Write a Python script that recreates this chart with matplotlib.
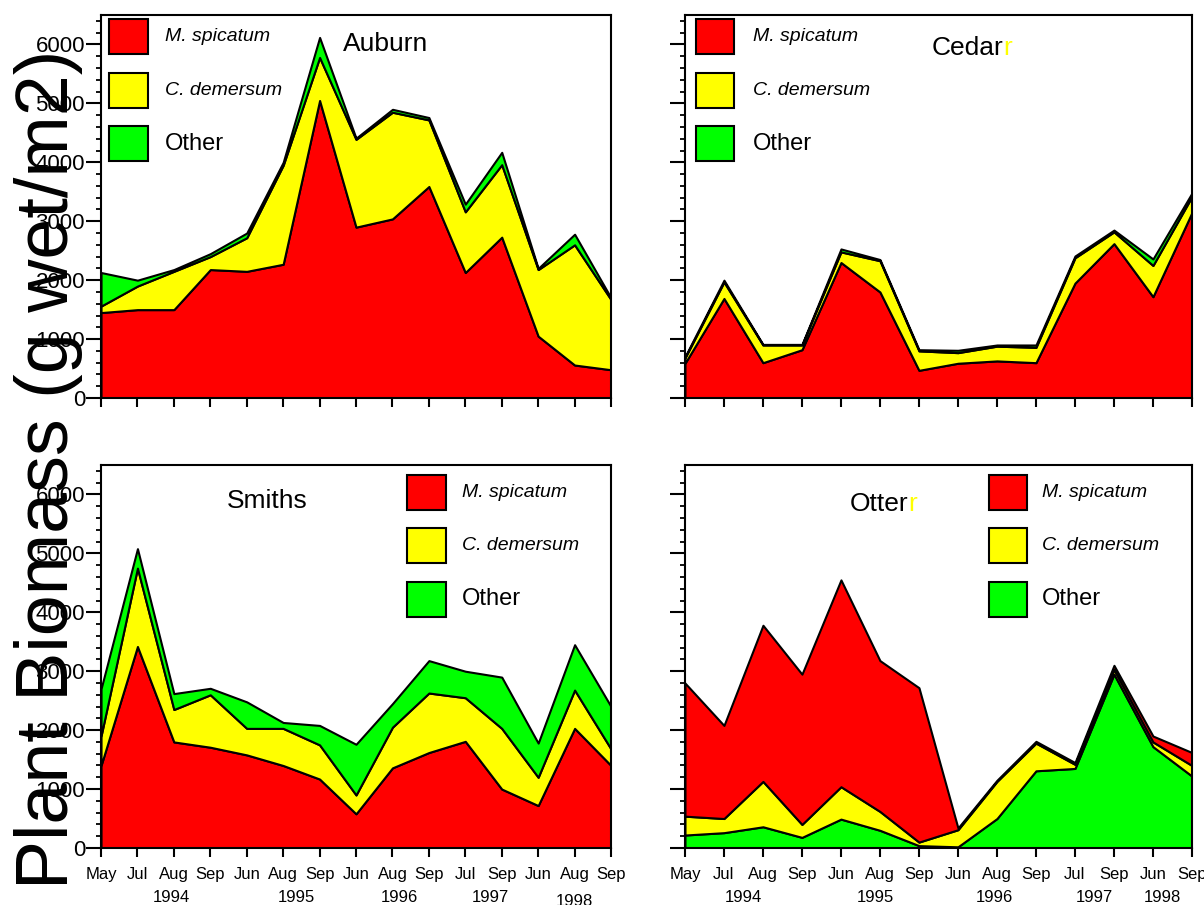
import matplotlib
matplotlib.use("Agg")
import matplotlib.pyplot as plt
from matplotlib.patches import Rectangle
from matplotlib.ticker import MultipleLocator

plt.rcParams['font.family'] = ['Liberation Sans', 'DejaVu Sans']

RED = '#ff0000'
YELLOW = '#ffff00'
GREEN = '#00ff00'

# sampling dates (left column lakes have one extra Aug 1998 visit)
left_months = ['May', 'Jul', 'Aug', 'Sep', 'Jun', 'Aug', 'Sep', 'Jun', 'Aug',
               'Sep', 'Jul', 'Sep', 'Jun', 'Aug', 'Sep']
right_months = ['May', 'Jul', 'Aug', 'Sep', 'Jun', 'Aug', 'Sep', 'Jun', 'Aug',
                'Sep', 'Jul', 'Sep', 'Jun', 'Sep']
years = ['1994', '1995', '1996', '1997', '1998']
left_year_at = [1.94, 5.35, 8.2, 10.7, 13.0]
right_year_at = [1.5, 4.87, 7.93, 10.5, 12.25]

# biomass, g wet / m2
auburn_milfoil = [1450, 1500, 1500, 2180, 2150, 2270, 5050, 2900, 3040, 3590, 2130, 2730, 1050, 560, 480]
auburn_coontail = [110, 400, 650, 220, 570, 1680, 730, 1490, 1810, 1130, 1030, 1230, 1130, 2040, 1190]
auburn_other = [570, 100, 30, 50, 80, 50, 340, 20, 50, 40, 130, 210, 20, 180, 30]

cedar_milfoil = [590, 1690, 600, 820, 2300, 1800, 470, 590, 630, 600, 1950, 2620, 1720, 3150]
cedar_coontail = [90, 280, 300, 80, 180, 530, 330, 180, 250, 260, 430, 200, 530, 270]
cedar_other = [20, 30, 10, 10, 50, 20, 20, 40, 20, 40, 30, 30, 110, 60]

smiths_milfoil = [1400, 3420, 1800, 1710, 1580, 1400, 1170, 580, 1360, 1620, 1810, 1000, 720, 2030, 1400]
smiths_coontail = [500, 1330, 550, 890, 450, 630, 580, 320, 690, 1010, 740, 1030, 480, 650, 280]
smiths_other = [800, 330, 270, 110, 450, 100, 330, 860, 400, 550, 450, 870, 580, 770, 720]

otter_milfoil = [2260, 1580, 2650, 2550, 3510, 2560, 2620, 30, 20, 30, 30, 70, 100, 220]
otter_coontail = [320, 240, 770, 220, 550, 320, 60, 290, 630, 470, 70, 80, 80, 180]
otter_other = [220, 260, 360, 180, 490, 300, 40, 20, 500, 1310, 1350, 2950, 1720, 1220]

keys = [('M. spicatum', RED, 'italic', 14),
        ('C. demersum', YELLOW, 'italic', 14),
        ('Other', GREEN, 'normal', 17)]


def style_axes(ax, months, show_x, show_y):
    x = range(len(months))
    ax.set_xlim(0, len(months) - 1)
    ax.set_ylim(0, 6500)
    ax.set_xticks(list(x))
    ax.set_xticklabels(months if show_x else [])
    ax.yaxis.set_major_locator(MultipleLocator(1000))
    ax.yaxis.set_minor_locator(MultipleLocator(200))
    if not show_y:
        ax.set_yticklabels([])
    for sp in ax.spines.values():
        sp.set_linewidth(1.5)
    ax.tick_params(axis='x', which='major', direction='out', length=6.5,
                   width=1.5, labelsize=12, pad=7)
    ax.tick_params(axis='y', which='major', direction='out', length=10.5,
                   width=1.5, labelsize=16, pad=1)
    ax.tick_params(axis='y', which='minor', direction='out', length=3.5,
                   width=1.3)


def draw_key(ax, x0, top, label_x):
    w, h, step = 0.0755, 0.0914, 0.1397
    for i, (name, color, style, size) in enumerate(keys):
        y = top - i * step - h
        ax.add_patch(Rectangle((x0, y), w, h, transform=ax.transAxes,
                               facecolor=color, edgecolor='black', lw=1.5,
                               clip_on=False, zorder=5))
        ax.text(label_x, y + h / 2, name, transform=ax.transAxes,
                fontsize=size, style=style, va='center', zorder=5)


def add_years(ax, where, low_last=False):
    tr = ax.get_xaxis_transform()
    for i, (yr, xpos) in enumerate(zip(years, where)):
        yy = -0.1305
        if low_last and i == len(years) - 1:
            yy = -0.14
        ax.text(xpos, yy, yr, transform=tr, ha='center', va='center',
                fontsize=12, clip_on=False)


def two_tone_title(ax, x, y, stem):
    t = ax.text(x, y, stem, transform=ax.transAxes, fontsize=19,
                ha='left', va='bottom')
    ax.annotate('r', xy=(1, 0), xycoords=t, fontsize=19, color=YELLOW,
                ha='left', va='bottom')


fig = plt.figure(figsize=(12.04, 9.05), dpi=100)
ax_a = fig.add_axes([0.0839, 0.5602, 0.4236, 0.4232])
ax_c = fig.add_axes([0.5689, 0.5602, 0.4211, 0.4232])
ax_s = fig.add_axes([0.0839, 0.0630, 0.4236, 0.4232])
ax_o = fig.add_axes([0.5689, 0.0630, 0.4211, 0.4232])

edge = dict(edgecolor='black', linewidth=1.5)

# Auburn
xl = range(len(left_months))
ax_a.stackplot(xl, auburn_milfoil, auburn_coontail, auburn_other,
               colors=[RED, YELLOW, GREEN], **edge)
style_axes(ax_a, left_months, False, True)
ax_a.text(0.557, 0.924, 'Auburn', transform=ax_a.transAxes, fontsize=19,
          ha='center', va='center')
draw_key(ax_a, 0.0157, 0.9896, 0.125)

# Cedar
xr = range(len(right_months))
ax_c.stackplot(xr, cedar_milfoil, cedar_coontail, cedar_other,
               colors=[RED, YELLOW, GREEN], **edge)
style_axes(ax_c, right_months, False, False)
two_tone_title(ax_c, 0.487, 0.882, 'Cedar')
draw_key(ax_c, 0.0217, 0.9896, 0.134)

# Smiths
ax_s.stackplot(xl, smiths_milfoil, smiths_coontail, smiths_other,
               colors=[RED, YELLOW, GREEN], **edge)
style_axes(ax_s, left_months, True, True)
ax_s.text(0.325, 0.906, 'Smiths', transform=ax_s.transAxes, fontsize=19,
          ha='center', va='center')
draw_key(ax_s, 0.60, 0.974, 0.708)
add_years(ax_s, left_year_at, low_last=True)

# Otter: other plants stacked at the bottom
ax_o.stackplot(xr, otter_other, otter_coontail, otter_milfoil,
               colors=[GREEN, YELLOW, RED], **edge)
style_axes(ax_o, right_months, True, False)
two_tone_title(ax_o, 0.325, 0.867, 'Otter')
draw_key(ax_o, 0.60, 0.974, 0.704)
add_years(ax_o, right_year_at)

fig.text(0.040, 0.481, 'Plant Biomass (g wet/m2)', rotation=90,
         fontsize=53, ha='center', va='center')

fig.savefig('out.png', dpi=100)
